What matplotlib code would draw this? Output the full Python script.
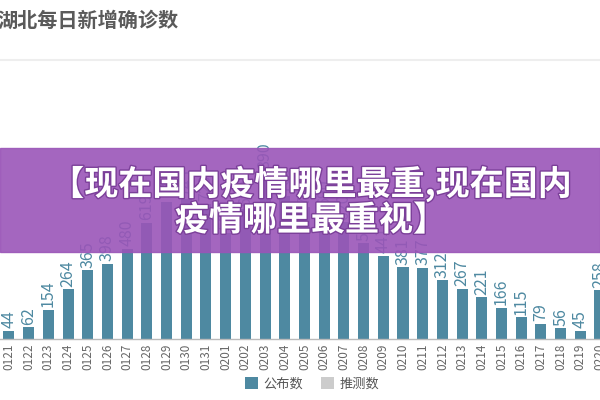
import matplotlib
matplotlib.use("Agg")
import matplotlib.pyplot as plt
import matplotlib.patheffects as pe

plt.rcParams['font.family'] = ['Noto Sans CJK SC', 'DejaVu Sans']

dates = ["0121", "0122", "0123", "0124", "0125", "0126", "0127", "0128", "0129", "0130",
         "0131", "0201", "0202", "0203", "0204", "0205", "0206", "0207", "0208", "0209",
         "0210", "0211", "0212", "0213", "0214", "0215", "0216", "0217", "0218", "0219",
         "0220"]
published = [44, 62, 154, 264, 365, 398, 480, 619, 730, 745,
             720, 565, 690, 890, 760, 700, 690, 620, 508, 441,
             381, 377, 312, 267, 221, 166, 115, 79, 56, 45,
             258]
estimated = [0] * len(dates)

bar_color = "#4e89a1"
gray_color = "#cccccc"

fig = plt.figure(figsize=(6, 4), dpi=100)
ax = fig.add_axes([0, 61 / 400, 1, 279 / 400])

x = list(range(len(dates)))
ax.bar(x, published, width=0.56, color=bar_color, label="公布数")
ax.bar(x, estimated, width=0.56, bottom=published, color=gray_color, label="推测数")

for i, v in enumerate(published):
    ax.annotate(str(v), (i, v), xytext=(0, 2), textcoords="offset points",
                rotation=90, ha="center", va="bottom", fontsize=11.5, color=bar_color)

ax.set_xlim(-9 / 19.8, (600 - 9) / 19.8)
ax.set_ylim(0, 1484)
ax.set_xticks(x)
ax.set_xticklabels(dates, rotation=90, fontsize=8.5, color="#666666")
ax.tick_params(axis="x", length=0, pad=3)
ax.set_yticks([])
for s in ["top", "right", "left"]:
    ax.spines[s].set_visible(False)
ax.spines["bottom"].set_color("#bbbbbb")
ax.spines["bottom"].set_linewidth(1)

leg = ax.legend(loc="center", bbox_to_anchor=(0.52, -0.16), ncol=2, frameon=False,
                fontsize=9.5, handlelength=1.0, handleheight=1.0, columnspacing=1.4,
                handletextpad=0.4)
for t in leg.get_texts():
    t.set_color("#555555")

# title and separator
fig.text(-0.004, 1 - 20 / 400, "湖北每日新增确诊数", fontsize=14.5, fontweight="bold",
         color="#5a5a5a", ha="left", va="center")
fig.add_artist(plt.Line2D([0, 1], [1 - 60 / 400, 1 - 60 / 400], color="#eeeeee", lw=1.5))

# purple banner overlay
fig.add_artist(plt.Rectangle((0, 1 - 252 / 400), 1, 104 / 400, transform=fig.transFigure,
                             color="#9a55b8", alpha=0.9, zorder=5))
fx = [pe.withStroke(linewidth=2, foreground="#7b3f99")]
fig.text(0.518, 1 - 184 / 400, "【现在国内疫情哪里最重,现在国内", fontsize=24.5, fontweight="bold",
         color="white", ha="center", va="center", zorder=6, path_effects=fx)
fig.text(0.518, 1 - 220 / 400, "疫情哪里最重视】", fontsize=24.5, fontweight="bold",
         color="white", ha="center", va="center", zorder=6, path_effects=fx)

fig.savefig("out.png", dpi=100)
